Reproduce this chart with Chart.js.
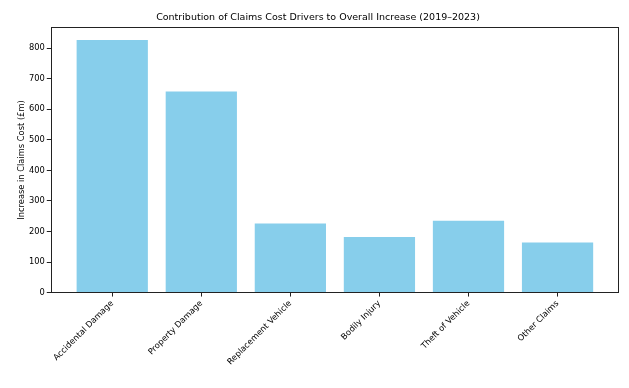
<!DOCTYPE html>
<html>
<head>
<meta charset="utf-8">
<script src="https://cdn.jsdelivr.net/npm/chart.js@4"></script>
<style>
  html, body { margin: 0; padding: 0; background: #fff; }
  #wrap { width: 629px; height: 388px; }
</style>
</head>
<body>
<div id="wrap"><canvas id="chart"></canvas></div>
<script>
const categories = ["Accidental Damage", "Property Damage", "Replacement Vehicle", "Bodily Injury", "Theft of Vehicle", "Other Claims"];
const increase = [827, 658, 226, 182, 235, 164];
const yTicks = [0, 100, 200, 300, 400, 500, 600, 700, 800];

const font = { family: "'DejaVu Sans', sans-serif", size: 8.3 };

// draws all four spines like matplotlib
const frame = {
  id: "frame",
  afterDraw(chart) {
    const { ctx, chartArea: a } = chart;
    const l = Math.round(a.left) + 0.5;
    const t = Math.round(a.top) + 0.5;
    const r = Math.round(a.right) - 0.5;
    const b = Math.round(a.bottom) - 0.5;
    ctx.save();
    ctx.strokeStyle = "#222";
    ctx.lineWidth = 1;
    ctx.strokeRect(l, t, r - l, b - t);
    ctx.restore();
  },
};

const printChart = () => {
  const ctx = document.getElementById("chart");

  const config = {
    type: "bar",
    data: {
      datasets: [
        {
          data: increase.map((v, i) => ({ x: i, y: v })),
          backgroundColor: "#87CEEB",
          borderWidth: 0,
          barPercentage: 1,
          categoryPercentage: 0.8,
        },
      ],
    },
    options: {
      responsive: true,
      maintainAspectRatio: false,
      animation: false,
      layout: { padding: { left: 17, right: 10, bottom: 19 } },
      plugins: {
        legend: { display: false },
        tooltip: { enabled: false },
        title: {
          display: true,
          text: "Contribution of Claims Cost Drivers to Overall Increase (2019–2023)",
          color: "#000",
          font: { family: font.family, size: 9.5, weight: "normal" },
          padding: { top: 12, bottom: 4 },
        },
      },
      scales: {
        x: {
          type: "linear",
          offset: false,
          min: -0.69,
          max: categories.length - 1 + 0.69,
          afterBuildTicks: (axis) => {
            axis.ticks = categories.map((_, i) => ({ value: i }));
          },
          ticks: {
            color: "#000",
            font: font,
            maxRotation: 45,
            minRotation: 45,
            autoSkip: false,
            padding: 2,
            callback: (v) => categories[v],
          },
          grid: { display: true, offset: false, drawOnChartArea: false, drawTicks: true, tickLength: 4, color: "#222" },
          border: { display: false },
        },
        y: {
          min: 0,
          max: 868,
          afterBuildTicks: (axis) => {
            axis.ticks = yTicks.map((v) => ({ value: v }));
          },
          ticks: { color: "#000", font: font, padding: 2 },
          title: {
            display: true,
            text: "Increase in Claims Cost (£m)",
            color: "#000",
            font: font,
            padding: { top: 0, bottom: 0 },
          },
          grid: { display: true, drawOnChartArea: false, drawTicks: true, tickLength: 4, color: "#222" },
          border: { display: false },
        },
      },
    },
    plugins: [frame],
  };

  new Chart(ctx, config);
};

printChart();
</script>
</body>
</html>
